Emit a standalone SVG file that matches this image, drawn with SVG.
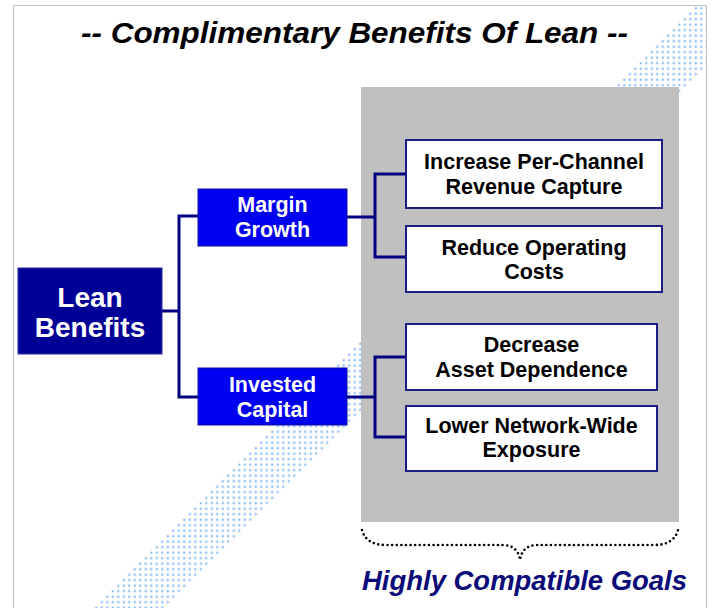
<svg xmlns="http://www.w3.org/2000/svg" width="714" height="608" viewBox="0 0 714 608">
<style>
.t{font-family:"Liberation Sans",Arial,sans-serif;font-weight:bold;text-anchor:middle}
.w{fill:#ffffff}
.k{fill:#000000}
.wb{fill:#ffffff;stroke:#1c1c84;stroke-width:2}
.bb{fill:#0000f0;stroke:#1010a0;stroke-width:1}
.conn{fill:none;stroke:#000080;stroke-width:3}
</style>
<defs>
<pattern id="dots" patternUnits="userSpaceOnUse" width="5.5" height="5.5">
<circle cx="2.75" cy="2.75" r="1.3" fill="#94c2f2"/>
</pattern>
</defs>
<rect x="0" y="0" width="714" height="608" fill="#ffffff"/>
<rect x="13.5" y="5.5" width="693" height="620" fill="none" stroke="#808080" stroke-width="1" stroke-dasharray="1 1"/>
<polygon points="94,608 697,5 706,5 706,66 164,608" fill="url(#dots)"/>
<text class="t k" x="354.5" y="43" font-size="29" font-style="italic" textLength="547" lengthAdjust="spacingAndGlyphs">-- Complimentary Benefits Of Lean --</text>
<rect id="panel" x="361" y="87" width="318" height="435" fill="#c0c0c0"/>
<g id="connectors">
<path class="conn" d="M162,311 H179 M198,216 H179 V397 H198"/>
<path class="conn" d="M347,217 H375 M406,174 H375 V257 H406"/>
<path class="conn" d="M347,397 H375 M406,357 H375 V437 H406"/>
</g>
<g id="lean">
<rect x="18" y="268" width="144" height="86" fill="#000096" stroke="#2a2aa6" stroke-width="1"/>
<text class="t w" x="90" y="307" font-size="28">Lean</text>
<text class="t w" x="90" y="337" font-size="28">Benefits</text>
</g>
<g id="margin">
<rect class="bb" x="198" y="189" width="149" height="57"/>
<text class="t w" x="272.5" y="212" font-size="21.5">Margin</text>
<text class="t w" x="272.5" y="237" font-size="21.5">Growth</text>
</g>
<g id="invested">
<rect class="bb" x="198" y="368" width="149" height="57"/>
<text class="t w" x="272.5" y="392" font-size="21.5">Invested</text>
<text class="t w" x="272.5" y="417" font-size="21.5">Capital</text>
</g>
<g id="revenue">
<rect class="wb" x="406" y="140" width="256" height="68"/>
<text class="t k" x="534" y="169" font-size="21.5">Increase Per-Channel</text>
<text class="t k" x="534" y="194" font-size="21.5">Revenue Capture</text>
</g>
<g id="costs">
<rect class="wb" x="406" y="226" width="256" height="66"/>
<text class="t k" x="534" y="255" font-size="21.5">Reduce Operating</text>
<text class="t k" x="534" y="279" font-size="21.5">Costs</text>
</g>
<g id="asset">
<rect class="wb" x="406" y="324" width="251" height="66"/>
<text class="t k" x="531.5" y="352" font-size="21.5">Decrease</text>
<text class="t k" x="531.5" y="377" font-size="21.5">Asset Dependence</text>
</g>
<g id="exposure">
<rect class="wb" x="406" y="406" width="251" height="65"/>
<text class="t k" x="531.5" y="433" font-size="21.5">Lower Network-Wide</text>
<text class="t k" x="531.5" y="457" font-size="21.5">Exposure</text>
</g>
<g id="goals">
<path d="M362,530 Q366,545 386,545 L504,545 Q518,546 520,560 Q522,546 536,545 L654,545 Q674,545 678,530" fill="none" stroke="#000000" stroke-width="2.6" stroke-linecap="round" stroke-dasharray="0 4.6"/>
<text class="t" x="524.5" y="590" font-size="27.5" font-style="italic" fill="#0a0a78" textLength="325" lengthAdjust="spacingAndGlyphs">Highly Compatible Goals</text>
</g>
</svg>
